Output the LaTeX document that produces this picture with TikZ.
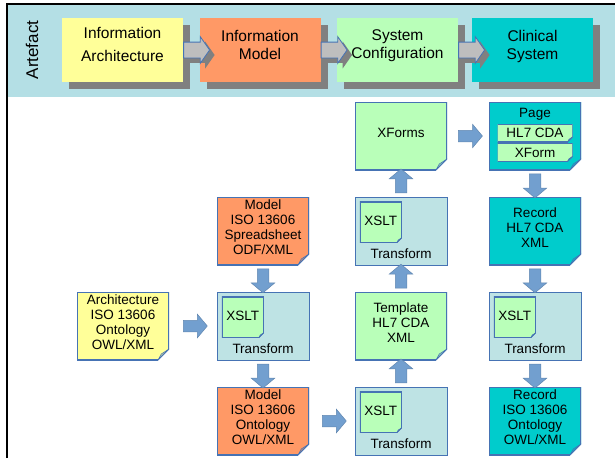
\documentclass[tikz,border=0pt]{standalone}
\usepackage{fontspec}
\setmainfont{Liberation Sans}
\usetikzlibrary{calc,shapes.arrows,shadows}

\definecolor{bandblue}{RGB}{180,223,229}
\definecolor{stageyellow}{RGB}{255,255,153}
\definecolor{stageorange}{RGB}{255,153,102}
\definecolor{stagegreen}{RGB}{185,255,185}
\definecolor{stageteal}{RGB}{0,204,204}
\definecolor{transblue}{RGB}{190,227,228}
\definecolor{borderblue}{RGB}{70,115,180}
\definecolor{arrowblue}{RGB}{114,159,207}
\definecolor{stagegray}{RGB}{190,190,190}
\definecolor{shadowgray}{RGB}{128,128,128}

\tikzset{
  foldsize/.store in=\foldsize, foldsize=11pt,
  note/.style={minimum width=92, minimum height=68, inner sep=0pt, align=center, text depth=7pt,
    path picture={
      \coordinate (pnw) at (path picture bounding box.north west);
      \coordinate (pne) at (path picture bounding box.north east);
      \coordinate (pse) at (path picture bounding box.south east);
      \coordinate (psw) at (path picture bounding box.south west);
      \coordinate (fa) at ([yshift=\foldsize]pse);
      \coordinate (fb) at ([xshift=-\foldsize]pse);
      \coordinate (fc) at ([xshift=-0.7*\foldsize,yshift=0.55*\foldsize]pse);
      \fill[#1] (pnw) -- (pne) -- (fa) -- (fb) -- (psw) -- cycle;
      \filldraw[fill=#1!65!borderblue, draw=borderblue, line width=0.5pt] (fa) -- (fc) -- (fb) -- cycle;
      \draw[borderblue, line width=1.8pt] (fb) -- (psw) -- (pnw) -- (pne) -- (fa);
      \draw[borderblue, line width=0.9pt] (fa) -- (fb);
    }},
  xsltbox/.style={note=stagegreen, foldsize=5pt, minimum width=42, minimum height=41, anchor=north west, text depth=2pt},
  pagepart/.style={note=stagegreen, foldsize=5pt, minimum width=75, minimum height=18, text depth=0pt},
  transform/.style={draw=borderblue, fill=transblue, line width=0.9pt, minimum width=92, minimum height=68,
    label={[anchor=south, inner sep=7pt]south:Transform}},
  stage/.style={fill=#1, minimum width=121, minimum height=64, align=center, text depth=11pt,
    font=\fontsize{15.5}{18}\selectfont,
    drop shadow={shadow xshift=7pt, shadow yshift=-7pt, fill=shadowgray, opacity=1}},
  stagearrow/.style={single arrow, fill=stagegray, draw=borderblue, line width=0.8pt,
    inner xsep=0pt, inner ysep=7.5pt, minimum height=26, single arrow head extend=5.5pt, single arrow tip angle=110,
    drop shadow={shadow xshift=5pt, shadow yshift=-5pt, fill=shadowgray, opacity=1}},
  flowarrow/.style={single arrow, fill=arrowblue, draw=arrowblue!85!black, line width=0.5pt,
    inner xsep=0pt, inner ysep=5.5pt, minimum height=24, single arrow head extend=6pt, single arrow tip angle=100}
}

\begin{document}
\begin{tikzpicture}[x=1pt,y=-1pt,font=\fontsize{13.5}{15}\selectfont]
  \useasboundingbox (0,0) rectangle (615,458);
  % artefact band
  \fill[bandblue] (8,5) rectangle (615,97);
  \draw[line width=2pt] (7,458) -- (7,4) -- (615,4);
  \node[rotate=90, font=\fontsize{17}{20}\selectfont] (artefact) at (32,50) {Artefact};
  \node[stage=stageyellow] (infarch) at (122.5,50) {Information\\[5pt]Architecture};
  \node[stage=stageorange] (infmodel) at (260,50) {Information\\Model};
  \node[stage=stagegreen] (sysconf) at (397.5,50) {System\\Configuration};
  \node[stage=stageteal] (clinsys) at (532.5,50) {Clinical\\System};
  \node[stagearrow, anchor=west] (sa1) at (infarch.east) {};
  \node[stagearrow, anchor=west] (sa2) at (infmodel.east) {};
  \node[stagearrow, anchor=west] (sa3) at (sysconf.east) {};

  % column 1
  \node[note=stageyellow] (archont) at (123,326) {Architecture\\ISO 13606\\Ontology\\OWL/XML};
  % column 2
  \node[note=stageorange] (modelsheet) at (263,231) {Model\\ISO 13606\\Spreadsheet\\ODF/XML};
  \node[transform] (trans2) at (263,326) {};
  \node[xsltbox] (xslt2) at ([shift={(5,5)}]trans2.north west) {XSLT};
  \node[note=stageorange] (modelont) at (263,421) {Model\\ISO 13606\\Ontology\\OWL/XML};
  % column 3
  \node[note=stagegreen] (xforms) at (401,136) {XForms};
  \node[transform] (trans3) at (401,231) {};
  \node[xsltbox] (xslt3) at ([shift={(5,5)}]trans3.north west) {XSLT};
  \node[note=stagegreen] (template) at (401,326) {Template\\HL7 CDA\\XML};
  \node[transform] (trans4) at (401,421) {};
  \node[xsltbox] (xslt4) at ([shift={(5,5)}]trans4.north west) {XSLT};
  % column 4
  \node[note=stageteal, label={[anchor=north, inner sep=6pt]north:Page}] (page) at (535,136) {};
  \node[pagepart] (pagecda) at (535,133) {HL7 CDA};
  \node[pagepart] (pageform) at (535,152.5) {XForm};
  \node[note=stageteal] (recordcda) at (535,231) {Record\\HL7 CDA\\XML};
  \node[transform] (trans5) at (535,326) {};
  \node[xsltbox] (xslt5) at ([shift={(5,5)}]trans5.north west) {XSLT};
  \node[note=stageteal] (recordont) at (535,421) {Record\\ISO 13606\\Ontology\\OWL/XML};

  % flow arrows
  \node[flowarrow] (fa1) at ($(archont.east)!0.5!(trans2.west)$) {};
  \node[flowarrow, rotate=-90] (fa2) at ($(modelsheet.south)!0.5!(trans2.north)$) {};
  \node[flowarrow, rotate=-90] (fa3) at ($(trans2.south)!0.5!(modelont.north)$) {};
  \node[flowarrow] (fa4) at ($(modelont.east)!0.5!(trans4.west)$) {};
  \node[flowarrow, rotate=90] (fa5) at ($(trans4.north)!0.5!(template.south)$) {};
  \node[flowarrow, rotate=90] (fa6) at ($(template.north)!0.5!(trans3.south)$) {};
  \node[flowarrow, rotate=90] (fa7) at ($(trans3.north)!0.5!(xforms.south)$) {};
  \node[flowarrow] (fa8) at ($(xforms.east)!0.5!(page.west)$) {};
  \node[flowarrow, rotate=-90] (fa9) at ($(page.south)!0.5!(recordcda.north)$) {};
  \node[flowarrow, rotate=-90] (fa10) at ($(recordcda.south)!0.5!(trans5.north)$) {};
  \node[flowarrow, rotate=-90] (fa11) at ($(trans5.south)!0.5!(recordont.north)$) {};
\end{tikzpicture}
\end{document}
